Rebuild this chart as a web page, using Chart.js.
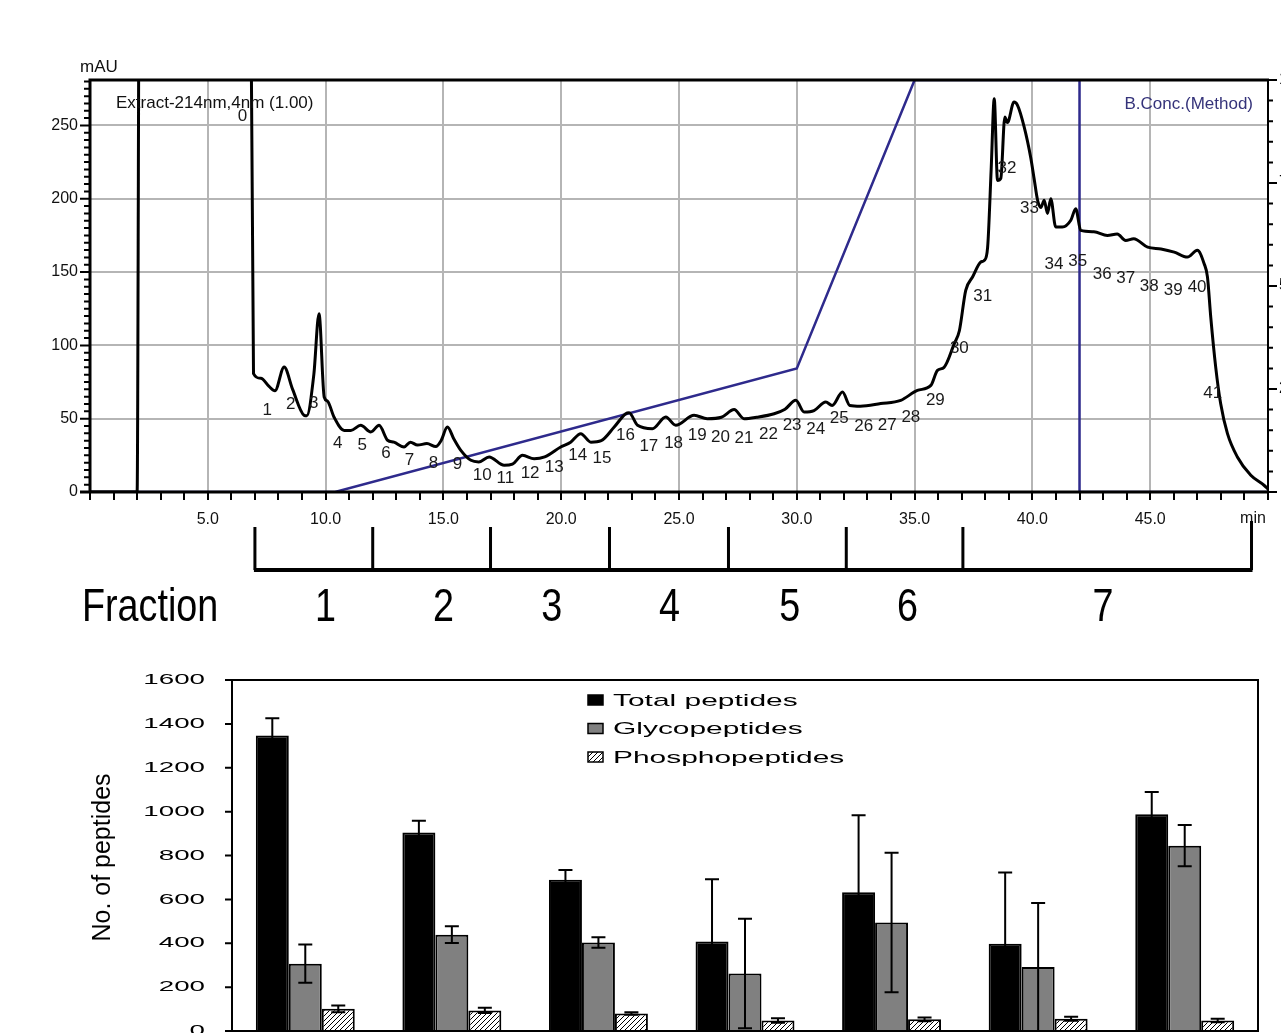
<!DOCTYPE html>
<html>
<head>
<meta charset="utf-8">
<title>Extract fractionation and peptide counts</title>
<script src="https://cdn.jsdelivr.net/npm/chart.js@4.4.1/dist/chart.umd.min.js"></script>
<style>
  html, body { margin: 0; padding: 0; background: #fff; overflow: hidden; }
  body { width: 1281px; height: 1033px; position: relative; }
  #chromChart { position: absolute; left: 0; top: 0; }
  #peptideChart { position: absolute; left: 0; top: 650px; }
</style>
</head>
<body>
<canvas id="chromChart" width="1281" height="645"></canvas>
<canvas id="peptideChart" width="1281" height="430"></canvas>
<script>
// chromatogram trace, 214 nm (min, mAU)
const chromTime = [0, 1.9, 2.0, 2.1, 6.8, 6.94, 7.25, 7.6, 7.85, 8.24, 8.6, 9.09, 9.2, 9.5, 9.72, 9.94, 10.08, 10.36, 10.79, 11.07,
  11.49, 11.92, 12.27, 12.63, 12.9, 13.33, 13.6, 13.9, 14.3, 14.68, 14.9, 15.17, 15.45, 15.74, 16.17, 16.5, 16.94, 17.58, 17.93, 18.36,
  18.85, 19.3, 19.98, 20.4, 20.83, 21.26, 21.7, 22.25, 22.74, 22.88, 23.24, 23.87, 24.44, 24.86, 25.64, 26.2, 26.8, 27.34, 27.76, 28.3,
  29.04, 29.5, 29.96, 30.31, 30.73, 31.23, 31.5, 31.94, 32.25, 32.7, 33.56, 34.41, 35.12, 35.69, 35.97, 36.25, 36.68, 36.9, 37.17, 37.46,
  37.81, 37.96, 38.1, 38.25, 38.38, 38.52, 38.66, 38.83, 38.94, 39.22, 39.36, 39.65, 39.93, 40.07, 40.22, 40.36, 40.5, 40.64, 40.78, 40.99,
  41.27, 41.63, 41.84, 42.05, 42.61, 43.18, 43.6, 43.96, 44.3, 44.89, 45.46, 46.02, 46.58, 47.0, 47.29, 47.43, 47.57, 47.78, 47.99, 48.28,
  48.7, 49.27, 49.83, 50];
const chromValue = [0, 0, 0, 400, 400, 80.7, 77.5, 72, 69, 85.2, 70, 52.3, 52, 80, 121.6, 64.8, 62, 51, 42, 42,
  45.5, 41, 45.5, 35.3, 34, 30.7, 34, 32, 33, 31, 35, 44.3, 36, 28.4, 21.6, 20.5, 23.9, 18.2, 19, 25,
  22.7, 24, 30.7, 34, 39.8, 34, 35, 44.3, 53.4, 54, 45.5, 43.2, 51.1, 45.5, 52.3, 50, 51, 56.2, 50, 51,
  53.4, 56.5, 62.5, 54.5, 55.5, 61.4, 59, 68.2, 59, 58.5, 60.3, 62.5, 69.3, 72.7, 83, 85, 101, 110, 137.5, 146.6,
  156.8, 158, 167, 220, 268.2, 212.5, 214, 255.8, 252, 266, 264, 249, 228, 214, 199, 194, 199, 190, 200, 180.7,
  180.7, 185.3, 193.2, 178.4, 177.5, 175, 176, 171.6, 172.7, 167, 165.8, 163.6, 160.2, 164.8, 155.7, 146.7, 119.3, 85.2, 60.3, 39.8,
  23.9, 11.4, 4.6, 2];

// solvent B gradient (min, %)
const bConcTime = [0, 10.4, 30, 35, 42, 42, 50];
const bConcValue = [0, 0, 30, 100, 100, 0, 0];

// collected peak numbers 0..41 (min, mAU)
const peakTime = [6.47, 7.52, 8.52, 9.5, 10.52, 11.55, 12.56, 13.56, 14.58, 15.6, 16.65, 17.63, 18.68, 19.7, 20.7, 21.73, 22.73, 23.72, 24.77, 25.77,
  26.76, 27.76, 28.8, 29.8, 30.8, 31.8, 32.84, 33.84, 34.84, 35.88, 36.9, 37.89, 38.92, 39.88, 40.92, 41.92, 42.96, 43.96, 44.96, 45.98,
  46.99, 47.65];
const peakValue = [256, 56, 60, 60.5, 33.5, 31.6, 26.5, 21.5, 19.7, 19, 11.4, 9.2, 13, 17, 25, 23, 38.7, 31.5, 33.5, 38.7,
  37.5, 36.6, 39.5, 45.8, 42.5, 50.5, 44.7, 45.8, 50.8, 62.6, 97.8, 133.7, 220.7, 193.4, 155, 157.5, 148.5, 146, 140, 137.7,
  139.7, 67.5];

// fraction windows under the chromatogram (min)
const fractionEdges = [7, 12, 17, 22.05, 27.1, 32.1, 37.05, 49.3];
const fractionLabelTime = [10, 15, 19.6, 24.6, 29.7, 34.7, 43];
const fractionNames = ["1", "2", "3", "4", "5", "6", "7"];

// peptide counts per fraction
const fractions = ["1", "2", "3", "4", "5", "6", "7"];
const totalPeptides = [1347, 905, 689, 408, 633, 398, 988];
const totalErr = [79, 53, 45, 284, 351, 324, 102];
const glycoPeptides = [307, 439, 403, 262, 495, 292, 845];
const glycoErr = [87, 38, 24, 250, 318, 292, 94];
const phosphoPeptides = [101, 94, 80, 48, 53, 56, 48];
const phosphoErr = [15, 12, 6, 10, 8, 9, 8];

(function () {
  "use strict";

  const FONT = "'Liberation Sans', Arial, sans-serif";
  const GRID = "#b5b5b5";
  const NAVY = "#2e2a8c";

  function font(size) {
    return size + "px " + FONT;
  }

  function stretchedText(ctx, text, x, y, sx, align) {
    ctx.save();
    ctx.translate(x, y);
    ctx.scale(sx, 1);
    ctx.textAlign = align;
    ctx.fillText(text, 0, 0);
    ctx.restore();
  }

  function makeHatch() {
    const c = document.createElement("canvas");
    c.width = 5;
    c.height = 5;
    const g = c.getContext("2d");
    g.fillStyle = "#fff";
    g.fillRect(0, 0, 5, 5);
    g.strokeStyle = "#000";
    g.lineWidth = 1;
    g.beginPath();
    g.moveTo(0, 5); g.lineTo(5, 0);
    g.moveTo(-1, 1); g.lineTo(1, -1);
    g.moveTo(4, 6); g.lineTo(6, 4);
    g.stroke();
    return g.createPattern(c, "repeat");
  }

  const chromDecor = {
    id: "chromDecor",
    afterDatasetsDraw(chart) {
      const ctx = chart.ctx;
      const a = chart.chartArea;
      const x = chart.scales.x;
      const y = chart.scales.y;
      const y2 = chart.scales.y2;
      ctx.save();
      ctx.strokeStyle = "#000";
      ctx.fillStyle = "#000";

      // plot frame
      ctx.lineWidth = 3;
      ctx.beginPath();
      ctx.moveTo(a.left, a.bottom);
      ctx.lineTo(a.left, a.top);
      ctx.lineTo(a.right + 1, a.top);
      ctx.moveTo(a.left - 10, a.bottom);
      ctx.lineTo(a.right + 1, a.bottom);
      ctx.stroke();
      ctx.lineWidth = 2;
      ctx.beginPath();
      ctx.moveTo(a.right, a.top);
      ctx.lineTo(a.right, a.bottom);
      ctx.stroke();

      // minor ticks, mAU on the left and %B on the right
      ctx.lineWidth = 2;
      ctx.beginPath();
      for (let v = 0; v <= 280; v += 5) {
        const py = y.getPixelForValue(v);
        const len = v % 50 === 0 ? 10 : 6;
        ctx.moveTo(a.left - len, py);
        ctx.lineTo(a.left, py);
      }
      for (let p = 0; p <= 100; p += 5) {
        const py = y2.getPixelForValue(p);
        const len = p % 25 === 0 ? 9 : 5;
        ctx.moveTo(a.right, py);
        ctx.lineTo(a.right + len, py);
      }
      ctx.stroke();

      ctx.font = font(16);
      ctx.textBaseline = "middle";
      ctx.textAlign = "left";
      for (let p = 25; p <= 100; p += 25) {
        ctx.fillText(String(p), a.right + 11, y2.getPixelForValue(p));
      }

      // titles
      ctx.font = font(17);
      ctx.fillStyle = "#111";
      ctx.textAlign = "left";
      ctx.fillText("mAU", 80, 67);
      ctx.fillText("Extract-214nm,4nm (1.00)", 116, 103);
      ctx.fillStyle = "#35337a";
      ctx.textAlign = "right";
      ctx.fillText("B.Conc.(Method)", 1253, 104);
      ctx.fillStyle = "#111";
      ctx.textAlign = "center";
      ctx.font = font(16);
      ctx.fillText("min", 1253, 519);

      // peak numbers
      ctx.font = font(17);
      ctx.fillStyle = "#1a1a1a";
      for (let i = 0; i < peakTime.length; i++) {
        ctx.fillText(String(i), x.getPixelForValue(peakTime[i]), y.getPixelForValue(peakValue[i]));
      }

      // fraction bracket
      const tickTop = a.bottom + 35;
      const lineY = a.bottom + 78;
      ctx.strokeStyle = "#000";
      ctx.lineWidth = 3;
      ctx.beginPath();
      fractionEdges.forEach(function (t, i) {
        const px = x.getPixelForValue(t);
        ctx.moveTo(px, i === fractionEdges.length - 1 ? tickTop - 6 : tickTop);
        ctx.lineTo(px, lineY);
      });
      ctx.stroke();
      ctx.lineWidth = 4;
      ctx.beginPath();
      ctx.moveTo(x.getPixelForValue(fractionEdges[0]) - 1, lineY);
      ctx.lineTo(x.getPixelForValue(fractionEdges[fractionEdges.length - 1]) + 1, lineY);
      ctx.stroke();

      const labelY = a.bottom + 116;
      ctx.fillStyle = "#000";
      ctx.font = font(46);
      stretchedText(ctx, "Fraction", 82, labelY, 0.82, "left");
      fractionNames.forEach(function (name, i) {
        stretchedText(ctx, name, x.getPixelForValue(fractionLabelTime[i]), labelY, 0.82, "center");
      });
      ctx.restore();
    }
  };

  const peptideDecor = {
    id: "peptideDecor",
    afterDatasetsDraw(chart) {
      const ctx = chart.ctx;
      const a = chart.chartArea;
      const y = chart.scales.y;
      const errs = [totalErr, glycoErr, phosphoErr];
      ctx.save();
      ctx.strokeStyle = "#000";
      ctx.fillStyle = "#000";

      // error bars
      ctx.lineWidth = 2;
      chart.data.datasets.forEach(function (ds, i) {
        const meta = chart.getDatasetMeta(i);
        meta.data.forEach(function (bar, j) {
          const v = ds.data[j];
          const e = errs[i][j];
          const top = y.getPixelForValue(v + e);
          const bottom = y.getPixelForValue(Math.max(0, v - e));
          ctx.beginPath();
          ctx.moveTo(bar.x, top);
          ctx.lineTo(bar.x, bottom);
          ctx.moveTo(bar.x - 7, top);
          ctx.lineTo(bar.x + 7, top);
          ctx.moveTo(bar.x - 7, bottom);
          ctx.lineTo(bar.x + 7, bottom);
          ctx.stroke();
        });
      });

      // frame and y ticks
      ctx.lineWidth = 2;
      ctx.strokeRect(a.left, a.top, a.right - a.left, a.bottom - a.top);
      ctx.beginPath();
      y.ticks.forEach(function (t) {
        const py = y.getPixelForValue(t.value);
        ctx.moveTo(a.left - 7, py);
        ctx.lineTo(a.left, py);
      });
      ctx.stroke();

      ctx.font = font(15);
      ctx.textBaseline = "middle";
      y.ticks.forEach(function (t) {
        stretchedText(ctx, String(t.value), 205, y.getPixelForValue(t.value), 1.85, "right");
      });

      // axis title
      ctx.save();
      ctx.translate(103, (a.top + a.bottom) / 2 + 2);
      ctx.rotate(-Math.PI / 2);
      ctx.font = font(25);
      ctx.textAlign = "center";
      ctx.fillText("No. of peptides", 0, 0);
      ctx.restore();

      // legend
      const rows = [50, 78.5, 107];
      ctx.font = font(17);
      chart.data.datasets.forEach(function (ds, i) {
        ctx.fillStyle = ds.backgroundColor;
        ctx.fillRect(588, rows[i] - 5, 15, 10);
        ctx.lineWidth = 1.5;
        ctx.strokeRect(588, rows[i] - 5, 15, 10);
        ctx.fillStyle = "#000";
        stretchedText(ctx, ds.label, 613, rows[i] + 1, 1.76, "left");
      });
      ctx.restore();
    }
  };

  function drawChromatogram() {
    const trace = chromTime.map(function (t, i) {
      return { x: t, y: chromValue[i] };
    });
    const gradient = bConcTime.map(function (t, i) {
      return { x: t, y: bConcValue[i] };
    });
    const onFive = function (v) {
      return v % 5 === 0 && v > 0 && v < 50;
    };
    new Chart(document.getElementById("chromChart"), {
      type: "line",
      data: {
        datasets: [
          {
            label: "Extract-214nm,4nm (1.00)",
            data: trace,
            borderColor: "#000",
            borderWidth: 3,
            pointRadius: 0,
            cubicInterpolationMode: "monotone",
            yAxisID: "y"
          },
          {
            label: "B.Conc.(Method)",
            data: gradient,
            borderColor: NAVY,
            borderWidth: 2.5,
            pointRadius: 0,
            tension: 0,
            yAxisID: "y2"
          }
        ]
      },
      options: {
        responsive: false,
        animation: false,
        layout: { padding: { top: 80, right: 13, left: 0, bottom: 0 } },
        plugins: { legend: { display: false }, tooltip: { enabled: false } },
        scales: {
          x: {
            type: "linear",
            min: 0,
            max: 50,
            afterFit: function (s) { s.height = 153; },
            border: { display: false },
            grid: {
              color: function (c) {
                return c.tick && onFive(c.tick.value) ? GRID : "rgba(0,0,0,0)";
              },
              lineWidth: 2,
              tickColor: "#000",
              tickLength: 8,
              tickWidth: 2
            },
            ticks: {
              stepSize: 1,
              autoSkip: false,
              maxRotation: 0,
              padding: 10,
              color: "#111",
              font: { family: FONT, size: 16 },
              callback: function (v) {
                return onFive(v) ? v.toFixed(1) : "";
              }
            }
          },
          y: {
            min: 0,
            max: 281,
            afterFit: function (s) { s.width = 90; },
            border: { display: false },
            grid: {
              color: function (c) {
                return c.tick && c.tick.value > 0 ? GRID : "rgba(0,0,0,0)";
              },
              lineWidth: 2,
              drawTicks: false
            },
            ticks: {
              stepSize: 50,
              includeBounds: false,
              padding: 12,
              color: "#111",
              font: { family: FONT, size: 16 }
            }
          },
          y2: { display: false, min: 0, max: 100 }
        }
      },
      plugins: [chromDecor]
    });
  }

  function drawPeptideBars() {
    new Chart(document.getElementById("peptideChart"), {
      type: "bar",
      data: {
        labels: fractions,
        datasets: [
          { label: "Total peptides", data: totalPeptides, backgroundColor: "#000", borderColor: "#000", borderWidth: 2 },
          { label: "Glycopeptides", data: glycoPeptides, backgroundColor: "#808080", borderColor: "#000", borderWidth: 2 },
          { label: "Phosphopeptides", data: phosphoPeptides, backgroundColor: makeHatch(), borderColor: "#000", borderWidth: 2 }
        ]
      },
      options: {
        responsive: false,
        animation: false,
        layout: { padding: { top: 30, right: 23, left: 0, bottom: 0 } },
        datasets: { bar: { categoryPercentage: 0.675, barPercentage: 1 } },
        plugins: { legend: { display: false }, tooltip: { enabled: false } },
        scales: {
          x: {
            afterFit: function (s) { s.height = 49; },
            grid: { display: false },
            border: { display: false },
            ticks: { color: "#000", font: { family: FONT, size: 16 } }
          },
          y: {
            min: 0,
            max: 1600,
            afterFit: function (s) { s.width = 232; },
            grid: { display: false },
            border: { display: false },
            ticks: { display: false, stepSize: 200 }
          }
        }
      },
      plugins: [peptideDecor]
    });
  }

  drawChromatogram();
  drawPeptideBars();
})();
</script>
</body>
</html>
